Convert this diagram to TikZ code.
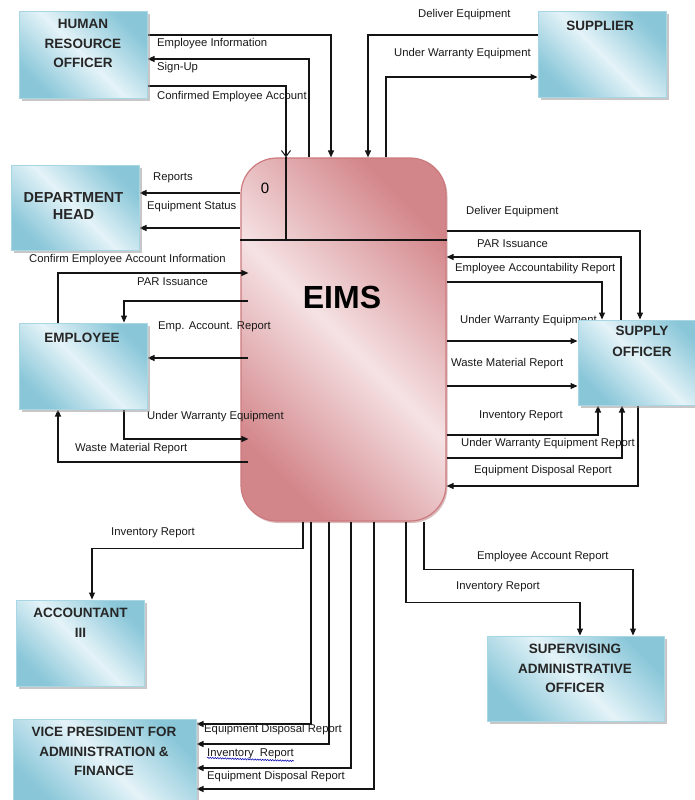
\documentclass[tikz,border=0pt]{standalone}
\usepackage{fontspec}
\setmainfont{Liberation Sans}
\usetikzlibrary{arrows.meta,shadows,decorations.pathmorphing,calc}
\definecolor{bdark}{RGB}{136,198,216}
\definecolor{blight}{RGB}{228,243,248}
\definecolor{bedge}{RGB}{168,214,228}
\definecolor{pdark}{RGB}{211,134,138}
\definecolor{plight}{RGB}{245,226,228}
\definecolor{pedge}{RGB}{204,122,126}
\definecolor{lcol}{RGB}{20,20,20}
\pgfdeclarehorizontalshading{entsh}{100bp}{color(0bp)=(bdark); color(25bp)=(bdark); color(50bp)=(blight); color(75bp)=(bdark); color(100bp)=(bdark)}
\pgfdeclarehorizontalshading{procsh}{100bp}{color(0bp)=(pdark); color(25bp)=(pdark); color(50bp)=(plight); color(75bp)=(pdark); color(100bp)=(pdark)}
\pgfdeclarelayer{front}
\pgfsetlayers{main,front}
\tikzset{
  entity/.style={rectangle, draw=bedge, line width=1pt, shade, shading=entsh, shading angle=45,
    drop shadow={shadow xshift=2.5pt, shadow yshift=-2.5pt, fill=black!40, opacity=0.55}, inner sep=0pt},
  process/.style={rectangle, rounded corners=36pt, draw=pedge, line width=1.2pt, shade, shading=procsh, shading angle=45,
    drop shadow={shadow xshift=1.5pt, shadow yshift=-2pt, fill=pedge!85!black, opacity=0.45}, inner sep=0pt},
  title/.style={align=center, inner sep=0pt, font=\bfseries\fontsize{13.5}{19.5}\selectfont, text=black!85},
  line/.style={draw=lcol, line width=1.05pt},
  arr/.style={line, -{Triangle[length=7pt,width=6pt]}},
  oarr/.style={line, -{Straight Barb[length=6pt,width=9pt]}},
  lab/.style={anchor=west, inner sep=0pt, font=\fontsize{11.3}{13}\selectfont, text=black!90}
}
\begin{document}
\begin{tikzpicture}[x=1pt,y=-1pt]
\useasboundingbox (0,0) rectangle (694,800);

% process
\node[process, minimum width=205pt, minimum height=363pt] (eims) at (343.5,339.5) {};
\coordinate (dv) at (286,240);
\coordinate (EL) at ($(eims.west)+(8,0)$);
\draw[line] (eims.west |- dv) -- (eims.east |- dv);
\draw[line] (eims.north -| dv) -- (dv);
\node[font=\fontsize{15}{16}\selectfont, inner sep=0pt] (pnum) at (265,188) {0};
\node[font=\bfseries\fontsize{32}{34}\selectfont, inner sep=0pt] (ptitle) at (342,297) {EIMS};

% entities (front layer)
\begin{pgfonlayer}{front}
\node[entity, minimum width=128pt, minimum height=86pt] (hr) at (83,55) {};
\node[entity, minimum width=128pt, minimum height=85pt] (sup) at (602,54.5) {};
\node[entity, minimum width=128pt, minimum height=85pt] (dh) at (75,207.5) {};
\node[entity, minimum width=128pt, minimum height=86pt] (emp) at (83,366) {};
\node[entity, minimum width=128pt, minimum height=85pt] (so) at (642,362.5) {};
\node[entity, minimum width=128pt, minimum height=86pt] (acc) at (80,643) {};
\node[entity, minimum width=177pt, minimum height=85pt] (sao) at (575.5,678.5) {};
\node[entity, minimum width=183pt, minimum height=86pt] (vp) at (104.5,762) {};
\node[title] (thr) at (83,43.5) {HUMAN\\RESOURCE\\OFFICER};
\node[title] (tsup) at (600,26) {SUPPLIER};
\node[title, font=\bfseries\fontsize{14.5}{17}\selectfont] (tdh) at (73.5,206.5) {DEPARTMENT\\HEAD};
\node[title] (temp) at (82,338) {EMPLOYEE};
\node[title, font=\bfseries\fontsize{13.5}{21}\selectfont] (tso) at (642,341.5) {SUPPLY\\OFFICER};
\node[title, font=\bfseries\fontsize{13.5}{20}\selectfont] (tacc) at (80.5,623) {ACCOUNTANT\\III};
\node[title] (tsao) at (575,668.5) {SUPERVISING\\ADMINISTRATIVE\\OFFICER};
\node[title] (tvp) at (104,751.5) {VICE PRESIDENT FOR\\ADMINISTRATION \&\\FINANCE};
\end{pgfonlayer}

% HR flows
\draw[arr] (hr.east |- 0,35) -| (eims.north -| 331,0);
\draw[arr] (eims.north -| 309,0) |- (hr.east |- 0,59);
\draw[oarr] (hr.east |- 0,86) -| (eims.north -| dv);
\node[lab] (l1) at (157,44) {Employee Information};
\node[lab] (l2) at (157,68) {Sign-Up};
\node[lab] (l3) at (157,97) {Confirmed Employee Account};

% supplier flows
\draw[arr] (sup.west |- 0,35) -| (eims.north -| 368,0);
\draw[arr] (eims.north -| 386,0) |- (sup.west |- 0,77);
\node[lab] (l4) at (418,15) {Deliver Equipment};
\node[lab] (l5) at (394,54) {Under Warranty Equipment};

% department head
\draw[arr] (eims.west |- 0,193) -- (dh.east |- 0,193);
\draw[arr] (eims.west |- 0,228) -- (dh.east |- 0,228);
\node[lab] (l6) at (153,178) {Reports};
\node[lab] (l7) at (147,207) {Equipment Status};

% employee
\draw[arr] (emp.north -| 58,0) |- (EL |- 0,273);
\draw[arr] (EL |- 0,301) -| (emp.north -| 124,0);
\draw[arr] (EL |- 0,358) -- (emp.east |- 0,358);
\draw[arr] (emp.south -| 124,0) |- (EL |- 0,439);
\draw[arr] (EL |- 0,462) -| (emp.south -| 58,0);
\node[lab] (l8) at (29,260) {Confirm Employee Account Information};
\node[lab] (l9) at (137,282) {PAR Issuance};
\node[lab] (l10) at (158,327) {Emp. Account. Report};
\node[lab] (l11) at (147,417) {Under Warranty Equipment};
\node[lab] (l12) at (75,449) {Waste Material Report};

% supply officer
\draw[arr] (eims.east |- 0,231) -| (so.north -| 640,0);
\draw[arr] (so.north -| 621,0) |- (eims.east |- 0,257);
\draw[arr] (eims.east |- 0,282) -| (so.north -| 602,0);
\draw[arr] (eims.east |- 0,341) -- (so.west |- 0,341);
\draw[arr] (eims.east |- 0,386) -- (so.west |- 0,386);
\draw[arr] (eims.east |- 0,435) -| (so.south -| 598,0);
\draw[arr] (eims.east |- 0,458) -| (so.south -| 622,0);
\draw[arr] (so.south -| 638,0) |- (eims.east |- 0,486);
\node[lab] (l13) at (466,212) {Deliver Equipment};
\node[lab] (l14) at (477,244) {PAR Issuance};
\node[lab] (l15) at (455,269) {Employee Accountability Report};
\node[lab] (l16) at (460,321) {Under Warranty Equipment};
\node[lab] (l17) at (451,364) {Waste Material Report};
\node[lab] (l18) at (479,416) {Inventory Report};
\node[lab] (l19) at (461,444) {Under Warranty Equipment Report};
\node[lab] (l20) at (474,471) {Equipment Disposal Report};

% accountant
\draw[arr] (eims.south -| 303,0) -- ++(0,27) -| (acc.north -| 92,0);
\node[lab] (l21) at (111,533) {Inventory Report};

% supervising administrative officer
\draw[arr] (eims.south -| 424,0) -- ++(0,48) -| (sao.north -| 633,0);
\draw[arr] (eims.south -| 406,0) -- ++(0,81) -| (sao.north -| 580,0);
\node[lab] (l22) at (477,557) {Employee Account Report};
\node[lab] (l23) at (456,587) {Inventory Report};

% vice president
\draw[arr] (eims.south -| 311,0) |- (vp.east |- 0,724);
\draw[arr] (eims.south -| 329,0) |- (vp.east |- 0,744);
\draw[arr] (eims.south -| 351,0) |- (vp.east |- 0,768);
\draw[arr] (eims.south -| 374,0) |- (vp.east |- 0,789);
\node[lab] (l24) at (204,730) {Equipment Disposal Report};
\node[lab] (l25) at (207,754) {Inventory~~Report};
\node[lab] (l26) at (207,777) {Equipment Disposal Report};
\draw[blue!70!black, line width=0.5pt, decorate, decoration={snake, amplitude=0.7pt, segment length=2.5pt}]
  (l25.south west) ++(0,-1.5) -- (l25.south east |- 0,761);
\end{tikzpicture}
\end{document}
